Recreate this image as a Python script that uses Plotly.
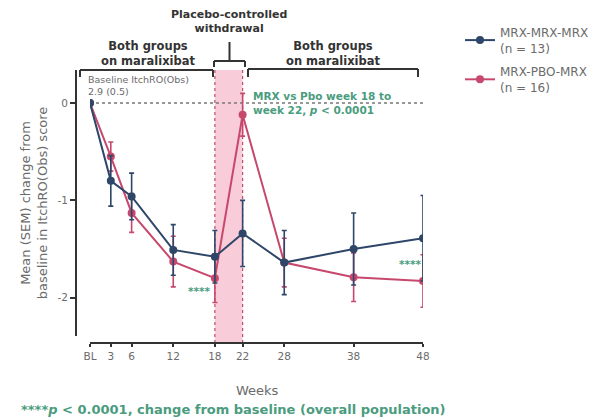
import plotly.graph_objects as go

weeks = [0, 3, 6, 12, 18, 22, 28, 38, 48]
week_labels = ["BL", "3", "6", "12", "18", "22", "28", "38", "48"]
mrx_mean = [0, -0.80, -0.96, -1.51, -1.58, -1.34, -1.64, -1.50, -1.39]
mrx_sem = [0, 0.26, 0.24, 0.26, 0.27, 0.34, 0.33, 0.37, 0.44]
pbo_mean = [0, -0.55, -1.13, -1.63, -1.80, -0.12, -1.64, -1.79, -1.83]
pbo_sem = [0, 0.15, 0.20, 0.26, 0.25, 0.22, 0.25, 0.25, 0.27]
y_ticks = [0, -1, -2]

BLUE = "#2e4668"
PINK = "#c7486d"
GREEN = "#4a9c7e"
GRAY = "#6b6b6b"
DARK = "#333333"
FONT = "DejaVu Sans"

# pixel -> paper helpers (plot area: x 76..423, y 70..343)
L, R, T, B = 76, 423, 70, 343
W, H = 610, 419
def px(p):
    return (p - L) / (R - L)
def py(p):
    return (B - p) / (B - T)

fig = go.Figure()
fig.add_trace(go.Scatter(
    x=weeks, y=pbo_mean, name="MRX-PBO-MRX<br>(n = 16)", mode="lines+markers",
    line=dict(color=PINK, width=2), marker=dict(color=PINK, size=8),
    error_y=dict(type="data", array=pbo_sem, color=PINK, thickness=1.6, width=2.5),
    legendgroup="b", legendrank=2,
))
fig.add_trace(go.Scatter(
    x=weeks, y=mrx_mean, name="MRX-MRX-MRX<br>(n = 13)", mode="lines+markers",
    line=dict(color=BLUE, width=2), marker=dict(color=BLUE, size=8),
    error_y=dict(type="data", array=mrx_sem, color=BLUE, thickness=1.6, width=2.5),
    legendgroup="a", legendrank=1,
))

shapes = []
# shaded withdrawal period
shapes.append(dict(type="rect", xref="x", yref="paper", x0=18, x1=22, y0=0, y1=1,
                   fillcolor="#f8ccd8", line=dict(width=0), layer="below"))
for xv in (18, 22):
    shapes.append(dict(type="line", xref="x", yref="paper", x0=xv, x1=xv, y0=0, y1=1,
                       line=dict(color="#b8506c", width=1.2, dash="dot"), layer="below"))
# zero reference line
shapes.append(dict(type="line", xref="x", yref="y", x0=0, x1=48, y0=0, y1=0,
                   line=dict(color="#777777", width=1.5, dash="dot"), layer="below"))
# brackets
def bracket(x0, x1, yb, ye, stem=None):
    out = [dict(type="line", xref="paper", yref="paper", x0=px(x0), x1=px(x1), y0=py(yb), y1=py(yb),
                line=dict(color=DARK, width=2)),
           dict(type="line", xref="paper", yref="paper", x0=px(x0), x1=px(x0), y0=py(yb), y1=py(ye),
                line=dict(color=DARK, width=2)),
           dict(type="line", xref="paper", yref="paper", x0=px(x1), x1=px(x1), y0=py(yb), y1=py(ye),
                line=dict(color=DARK, width=2))]
    if stem is not None:
        xm = (x0 + x1) / 2
        out.append(dict(type="line", xref="paper", yref="paper", x0=px(xm), x1=px(xm), y0=py(yb), y1=py(stem),
                        line=dict(color=DARK, width=2)))
    return out
shapes += bracket(80, 213, 70, 77)
shapes += bracket(214, 245, 61, 67, stem=42)
shapes += bracket(248, 418, 69, 77)

annotations = []
def ptext(text, x, y, size, color, xanchor="center", bold=False, align="center"):
    if bold:
        text = "<b>" + text + "</b>"
    annotations.append(dict(text=text, xref="paper", yref="paper", x=px(x), y=py(y),
                            xanchor=xanchor, yanchor="middle", showarrow=False, align=align,
                            font=dict(family=FONT, size=size, color=color)))
ptext("Both groups<br>on maralixibat", 148, 53, 11.5, DARK, bold=True)
ptext("Both groups<br>on maralixibat", 333, 53, 11.5, DARK, bold=True)
ptext("Placebo-controlled<br>withdrawal", 229, 22, 11, DARK, bold=True)
ptext("Baseline ItchRO(Obs)<br>2.9 (0.5)", 86, 85, 9.5, GRAY, xanchor="left", align="left")
ptext("MRX vs Pbo week 18 to<br>week 22, <i>p</i> < 0.0001", 251, 103, 10.5, GREEN,
      xanchor="left", bold=True, align="left")
ptext("****<i>p</i> < 0.0001, change from baseline (overall population)", 19, 409, 13, GREEN,
      xanchor="left", bold=True, align="left")
ptext("Weeks", 257, 390, 13, GRAY)
for xv, yv in ((17.6, -1.93), (48, -1.65)):
    annotations.append(dict(text="<b>****</b>", xref="x", yref="y", x=xv, y=yv, xanchor="right",
                            yanchor="middle", showarrow=False,
                            font=dict(family=FONT, size=10.5, color=GREEN)))

fig.update_layout(
    width=W, height=H,
    margin=dict(l=L, r=W - R, t=T, b=H - B, pad=0),
    paper_bgcolor="white", plot_bgcolor="white",
    font=dict(family=FONT, size=11, color=GRAY),
    showlegend=True,
    legend=dict(x=px(460), y=py(18), xref="paper", yref="paper", xanchor="left", yanchor="top",
                traceorder="grouped", tracegroupgap=5, bgcolor="rgba(0,0,0,0)",
                font=dict(family=FONT, size=12, color=GRAY)),
    xaxis=dict(range=[0, 48], domain=[px(90), 1], anchor="free", position=0,
               tickvals=weeks, ticktext=week_labels, showgrid=False, zeroline=False,
               showline=True, linecolor=DARK, linewidth=2, ticks="outside", ticklen=3,
               tickwidth=2, tickcolor=DARK, tickfont=dict(family=FONT, size=10.5, color=GRAY)),
    yaxis=dict(range=[-2.395, 0.34], domain=[py(336), 1], anchor="free", position=0,
               tickvals=y_ticks, ticktext=["0", "-1", "-2"], showgrid=False, zeroline=False,
               showline=True, linecolor=DARK, linewidth=2, ticks="outside", ticklen=5,
               tickwidth=2, tickcolor=DARK, tickfont=dict(family=FONT, size=10.5, color=GRAY),
               title=dict(text="Mean (SEM) change from<br>baseline in ItchRO(Obs) score",
                          font=dict(family=FONT, size=13, color=GRAY), standoff=6)),
    shapes=shapes, annotations=annotations,
)
fig.write_html("out.html")
